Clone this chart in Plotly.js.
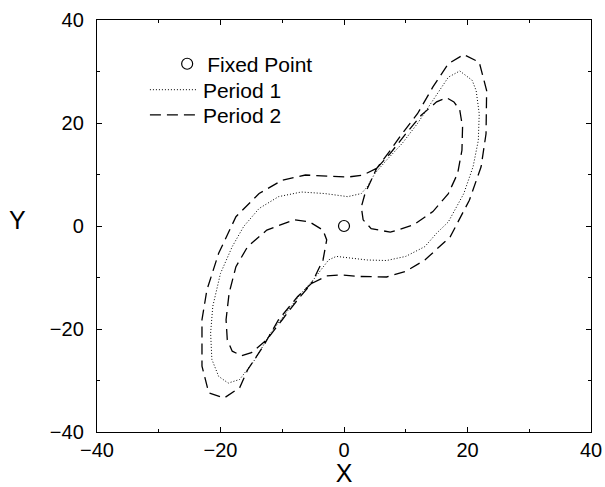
<!DOCTYPE html>
<html>
<head>
<meta charset="utf-8">
<script src="https://cdn.plot.ly/plotly-3.0.1.min.js"></script>
<style>html,body{margin:0;padding:0;background:#fff;}#chart{width:605px;height:487px;}</style>
</head>
<body>
<div id="chart"></div>
<script>
// Fixed point
const fixedX = [0];
const fixedY = [0];

// Period 1 orbit (dotted)
const p1X = [18.75, 20.75, 21.4, 21.9, 21.75, 20.9, 19.4, 16.9, 15, 13.1, 10, 6.9, 3.75, 0.6, -1.25, -2.5, -3.75, -5, -6.9, -9.4, -11.9, -14.4, -16.9, -18.75, -20.3, -21.4, -21.6, -21.25, -20, -18.1, -16.25, -13.75, -10.6, -6.9, -3.1, 0.6, 2.8, 3.75, 5, 6.9, 9.4, 11.9, 14.4, 16.9, 18.75];
const p1Y = [30.1, 28.3, 26.3, 21.8, 16.6, 11.5, 6.3, 0.8, -1.4, -4.0, -5.9, -6.7, -6.6, -6.1, -5.9, -6.6, -8.5, -10.5, -13, -16.9, -20.8, -25.9, -29.8, -30.5, -29.2, -25.9, -20.8, -15.6, -9.2, -4, -0.1, 3.4, 5.7, 6.6, 6.3, 5.7, 6.3, 7.6, 10.2, 12.8, 16, 19.9, 24.4, 28.9, 30.1];

// Period 2 orbit (dashed)
const p2X = [5.3, 7.5, 10, 12.5, 15, 16.6, 17.8, 18.75, 19.2, 19.1, 18.4, 16.9, 14.4, 11.25, 7.5, 4.4, 3.1, 2.8, 3.4, 4.4, 5.3,
  7.5, 9.4, 11.9, 14.4, 16.9, 19.4, 21.9, 23.1, 23, 22.2, 20.3, 17.2, 13.1, 10, 6.9, 2.5, -0.6, -2.8, -5.3,
  -7.5, -10, -12.5, -15, -16.6, -18.1, -18.9, -19.1, -18.6, -17.5, -15.6, -12.5, -8.1, -5.6, -3.4, -2.8, -3.4, -4.7, -5.3,
  -7.5, -10.6, -13.1, -15.6, -16.9, -19.4, -21.9, -23, -23, -22.2, -20.3, -17.5, -13.75, -10, -6.25, -2.5, 0.6, 3.1, 5.3];
const p2Y = [11.2, 14.1, 17.9, 21.5, 24.1, 24.9, 24.1, 22.5, 19.2, 14.7, 10.2, 6.3, 2.8, 0.2, -1.2, -0.5, 1.2, 3.7, 6.3, 8.9, 11.2,
  14.7, 17.9, 21.8, 27, 31.5, 33.3, 31.8, 26.3, 17.9, 11.5, 5.0, -2.1, -6.6, -8.8, -9.9, -9.8, -9.5, -9.7, -11.2,
  -14.3, -18.2, -22.1, -24.6, -25.2, -24.3, -22.1, -18.2, -13, -7.9, -4, -0.8, 1.2, 0.8, -0.8, -2.7, -6.6, -9.8, -11.2,
  -13.7, -18.2, -23.4, -27.9, -31.4, -33.4, -32.4, -27.2, -18.2, -12.4, -5.3, 1.8, 6.3, 8.9, 9.9, 9.7, 9.5, 9.9, 11.2];

// Axis ticks
const tickVals = [-40, -20, 0, 20, 40];
const tickText = ['\u221240', '\u221220', '0', '20', '40'];

const FONT = 'Liberation Sans, Arial, sans-serif';

const traces = [
  {x: fixedX, y: fixedY, name: 'Fixed Point', mode: 'markers', type: 'scatter', legend: 'legend',
   marker: {symbol: 'circle-open', size: 11, color: '#000', line: {width: 1.2, color: '#000'}}},
  {x: p1X, y: p1Y, name: 'Period 1', mode: 'lines', type: 'scatter', legend: 'legend2',
   line: {color: '#000', width: 1, dash: '1px,2px'}},
  {x: p2X, y: p2Y, name: 'Period 2', mode: 'lines', type: 'scatter', legend: 'legend3',
   line: {color: '#000', width: 1.3, dash: '11px,6px'}}
];

const axisCommon = {
  range: [-40, 40], autorange: false,
  tickvals: tickVals, ticktext: tickText,
  ticks: 'inside', ticklen: 5, tickwidth: 1, tickcolor: '#000',
  minor: {dtick: 10, ticks: 'inside', ticklen: 3, tickwidth: 1, tickcolor: '#000'},
  showline: true, linecolor: '#000', linewidth: 1.2, mirror: 'allticks',
  showgrid: false, zeroline: false,
  tickfont: {family: FONT, size: 20, color: '#000'}
};

const legendFont = {family: FONT, size: 21, color: '#000'};
const legendBase = {xanchor: 'left', yanchor: 'middle', bgcolor: 'rgba(0,0,0,0)', font: legendFont};

const layout = {
  width: 605, height: 487,
  margin: {l: 97, r: 14, t: 20, b: 55},
  paper_bgcolor: '#fff', plot_bgcolor: '#fff',
  showlegend: true,
  legend: Object.assign({}, legendBase, {x: 0.142, y: 0.893, itemwidth: 30}),
  legend2: Object.assign({}, legendBase, {x: 0.097, y: 0.830, itemwidth: 48}),
  legend3: Object.assign({}, legendBase, {x: 0.097, y: 0.769, itemwidth: 48}),
  xaxis: Object.assign({}, axisCommon, {
    title: {text: 'X', font: {family: FONT, size: 25, color: '#000'}, standoff: 14}
  }),
  yaxis: Object.assign({}, axisCommon, {ticklabelstandoff: 8}),
  annotations: [
    {text: 'Y', xref: 'paper', yref: 'paper', x: -0.16, y: 0.515, showarrow: false,
     xanchor: 'center', yanchor: 'middle', font: {family: FONT, size: 25, color: '#000'}}
  ]
};

Plotly.newPlot('chart', traces, layout, {displayModeBar: false, staticPlot: true});
</script>
</body>
</html>
